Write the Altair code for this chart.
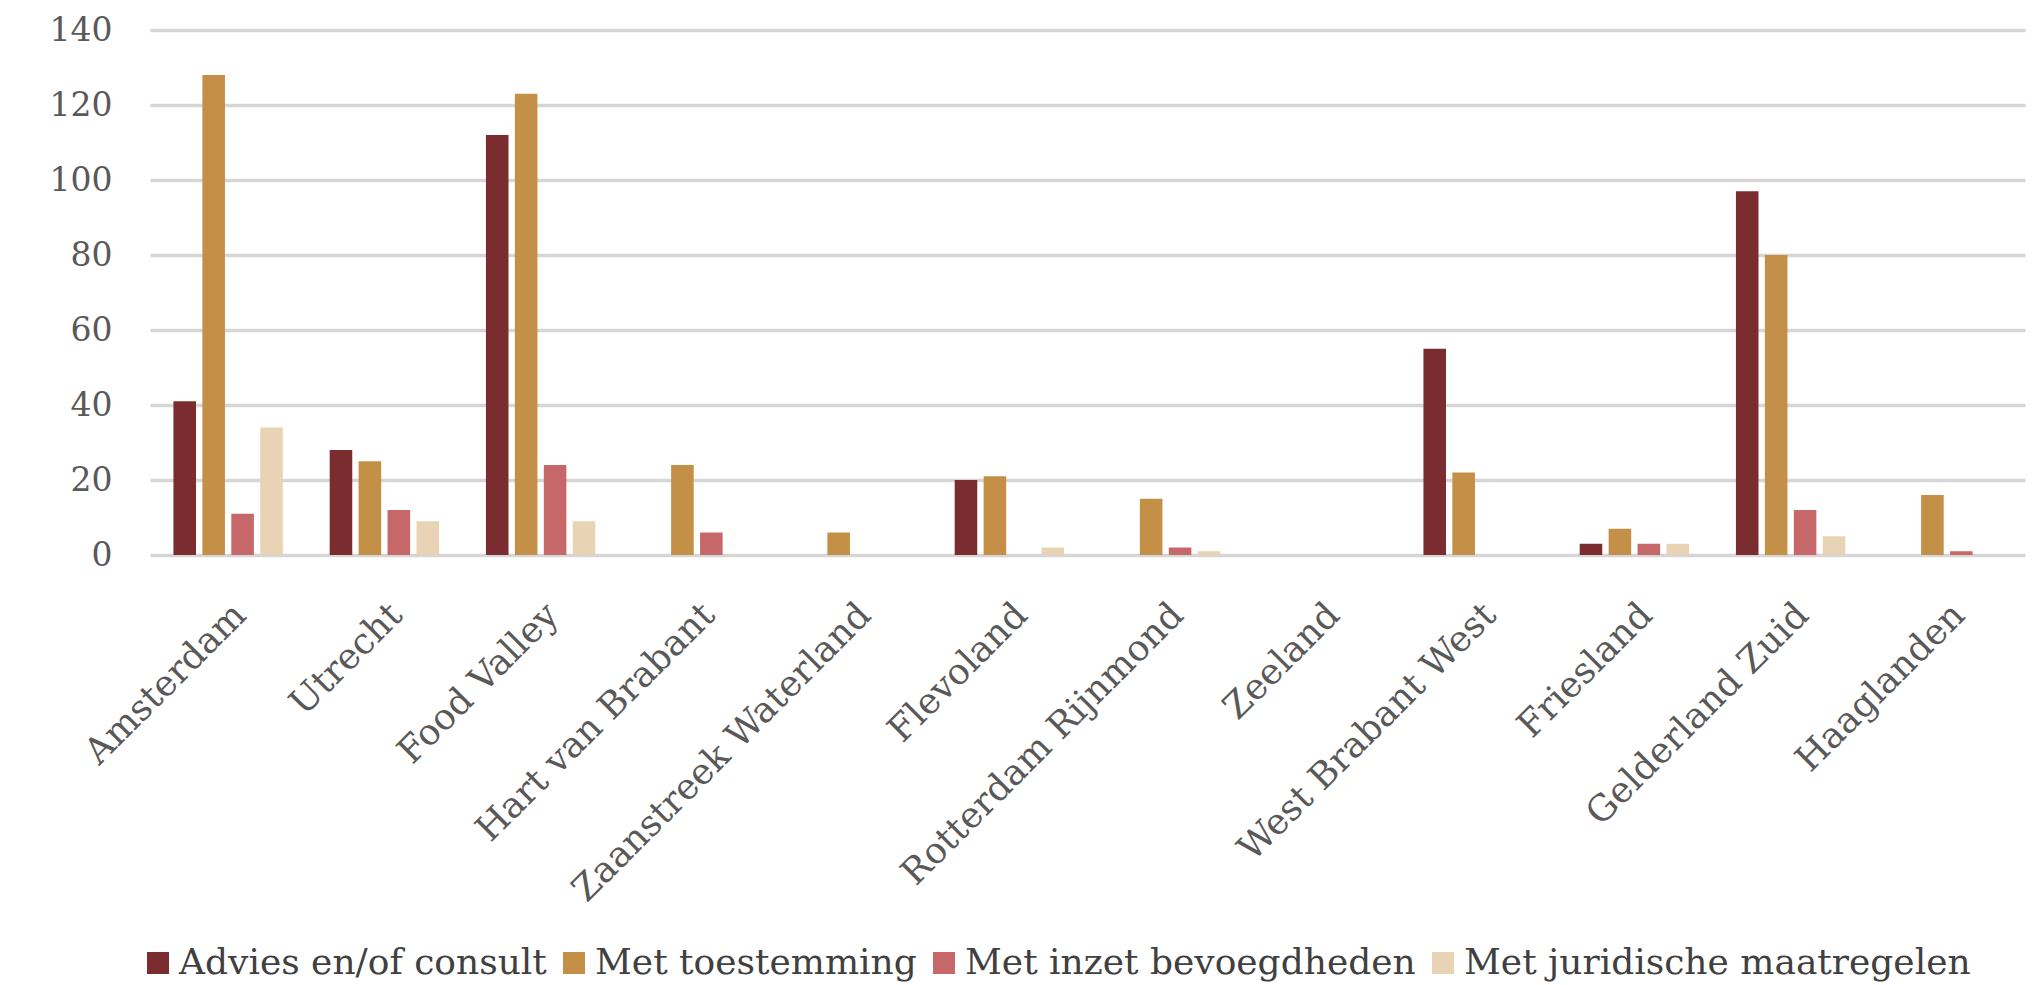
import altair as alt
import pandas as pd

regions = ["Amsterdam", "Utrecht", "Food Valley", "Hart van Brabant",
           "Zaanstreek Waterland", "Flevoland", "Rotterdam Rijnmond", "Zeeland",
           "West Brabant West", "Friesland", "Gelderland Zuid", "Haaglanden"]
series = ["Advies en/of consult", "Met toestemming",
          "Met inzet bevoegdheden", "Met juridische maatregelen"]
advies = [41, 28, 112, 0, 0, 20, 0, 0, 55, 3, 97, 0]
toestemming = [128, 25, 123, 24, 6, 21, 15, 0, 22, 7, 80, 16]
inzet = [11, 12, 24, 6, 0, 0, 2, 0, 0, 3, 12, 1]
juridisch = [34, 9, 9, 0, 0, 2, 1, 0, 0, 3, 5, 0]
colors = ["#7B2C2F", "#C48F46", "#C6676A", "#E8D4B4"]
y_ticks = [0, 20, 40, 60, 80, 100, 120, 140]

rows = []
for s, vals in zip(series, [advies, toestemming, inzet, juridisch]):
    for r, v in zip(regions, vals):
        rows.append({"regio": r, "reeks": s, "waarde": v})
df = pd.DataFrame(rows)

FONT = "DejaVu Serif"

chart = alt.Chart(df).mark_bar().encode(
    x=alt.X("regio:N", sort=regions,
            scale=alt.Scale(paddingInner=0.30, paddingOuter=0.15),
            axis=alt.Axis(title=None, labelAngle=315, labelAlign="right",
                          labelBaseline="top", labelPadding=42, grid=False,
                          domain=False, ticks=False, labelFont=FONT,
                          labelFontSize=36, labelColor="#595959",
                          labelLimit=1000)),
    xOffset=alt.XOffset("reeks:N", sort=series,
                        scale=alt.Scale(paddingInner=0.22, paddingOuter=0)),
    y=alt.Y("waarde:Q",
            scale=alt.Scale(domain=[0, 140], nice=False),
            axis=alt.Axis(title=None, values=y_ticks, grid=True,
                          gridColor="#d6d6d6", gridWidth=3.5, domain=False,
                          ticks=False, labelPadding=38, labelFont=FONT,
                          labelFontSize=33, labelColor="#595959")),
    color=alt.Color("reeks:N", sort=series,
                    scale=alt.Scale(domain=series, range=colors),
                    legend=alt.Legend(title=None, orient="none",
                                      legendX=-10, legendY=915,
                                      direction="horizontal", columns=4,
                                      symbolType="square", symbolSize=484,
                                      symbolStrokeWidth=0, labelFont=FONT,
                                      labelFontSize=36, labelColor="#404040",
                                      labelOffset=3, columnPadding=9,
                                      padding=0, labelLimit=1000)),
).properties(
    width=1875, height=525,
    background="white",
    autosize=alt.AutoSizeParams(type="none"),
    padding={"left": 142, "top": 22, "right": 10, "bottom": 428},
).configure_view(strokeWidth=0)

chart.save("out.html", embed_options={"renderer": "svg", "actions": False})
